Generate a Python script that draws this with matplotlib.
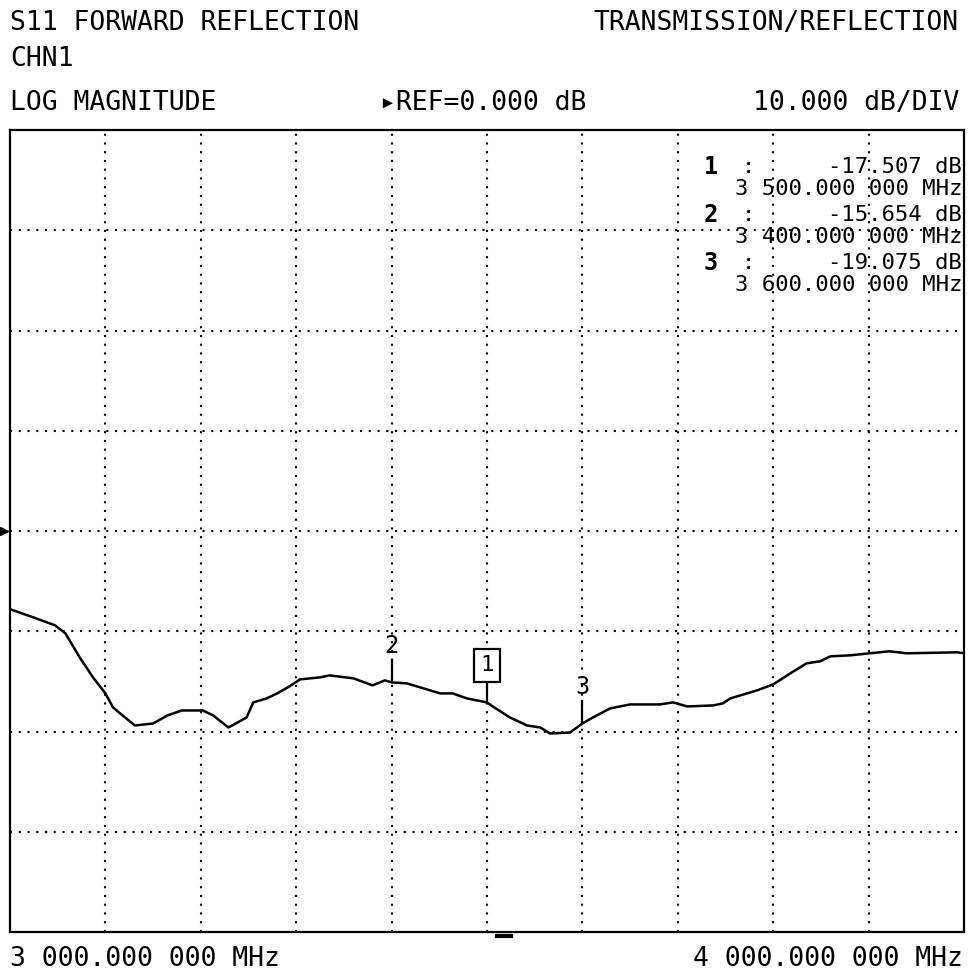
import matplotlib
matplotlib.use('Agg')
import matplotlib.pyplot as plt
import numpy as np

# S11 trace (MHz, dB)
freq_mhz = [3000, 3024, 3047, 3058, 3073, 3087, 3100, 3108, 3118, 3131,
            3150, 3165, 3180, 3202, 3213, 3229, 3248, 3255, 3269, 3280,
            3293, 3304, 3325, 3335, 3360, 3380, 3393, 3400, 3416, 3430,
            3451, 3464, 3479, 3500, 3506, 3524, 3542, 3556, 3566, 3587,
            3600, 3611, 3629, 3650, 3681, 3695, 3710, 3737, 3747, 3755,
            3783, 3800, 3818, 3835, 3849, 3860, 3881, 3901, 3922, 3940,
            3993, 4000]
s11_db = [-7.8, -8.6, -9.4, -10.2, -12.6, -14.6, -16.2, -17.6, -18.4, -19.4,
          -19.2, -18.4, -17.9, -17.9, -18.4, -19.6, -18.6, -17.1, -16.7, -16.2,
          -15.5, -14.8, -14.6, -14.4, -14.7, -15.4, -14.9, -15.1, -15.2, -15.6,
          -16.2, -16.2, -16.7, -17.1, -17.5, -18.6, -19.4, -19.6, -20.2, -20.1,
          -19.2, -18.6, -17.7, -17.3, -17.3, -17.1, -17.5, -17.4, -17.2, -16.7,
          -15.9, -15.3, -14.2, -13.2, -13.0, -12.5, -12.4, -12.2, -12.0, -12.2,
          -12.1, -12.2]

marker_ids = ['1', '2', '3']
marker_freq = [3500, 3400, 3600]
marker_db = [-17.507, -15.654, -19.075]
marker_freq_text = ['3 500.000 000 MHz', '3 400.000 000 MHz', '3 600.000 000 MHz']

ref_db = 0.0
scale_db = 10.0
start_label = '3 000.000 000 MHz'
stop_label = '4 000.000 000 MHz'

W, H = 968, 976
MONO = ['DejaVu Sans Mono', 'DejaVu Sans']


def px(x, y):
    return x / W, 1 - y / H


fig = plt.figure(figsize=(W / 100, H / 100), dpi=100)
ax = fig.add_axes([10 / W, (H - 932) / H, 954 / W, 802 / H])

ax.plot(freq_mhz, s11_db, color='black', lw=1.8, zorder=3)

ax.set_xlim(3000, 4000)
ax.set_ylim(ref_db - 4 * scale_db, ref_db + 4 * scale_db)
ax.set_xticks(np.arange(3100, 4000, 100))
ax.set_yticks(np.arange(-30, 40, 10))
ax.tick_params(length=0, labelbottom=False, labelleft=False)
ax.grid(True, color='black', linestyle=(0, (1, 3.2)), linewidth=1.5)
for s in ax.spines.values():
    s.set_linewidth(1.6)

# marker stems and labels on the trace
for mid, f in zip(marker_ids, marker_freq):
    y0 = np.interp(f, freq_mhz, s11_db)
    ax.plot([f, f], [y0, y0 + 2.2], color='black', lw=1.6, zorder=3)
    if mid == '1':
        ax.text(f, y0 + 3.7, mid, ha='center', va='center', fontsize=16,
                family=MONO, zorder=4,
                bbox=dict(boxstyle='square,pad=0.3', fc='white', ec='black', lw=1.6))
    else:
        ax.text(f, y0 + 3.6, mid, ha='center', va='center', fontsize=17,
                family=MONO, zorder=4)

# reference arrow and small dash under the frame
ax.plot([-0.006], [ref_db], marker='>', color='black', markersize=6,
        transform=ax.get_yaxis_transform(), clip_on=False)
ax.plot([3510, 3525], [-40.35, -40.35], color='black', lw=3, clip_on=False)

# header text
hdr = dict(fontsize=19, family=MONO, va='center')
fig.text(*px(10, 23), 'S11 FORWARD REFLECTION', ha='left', **hdr)
fig.text(*px(959, 23), 'TRANSMISSION/REFLECTION', ha='right', **hdr)
fig.text(*px(10, 59), 'CHN1', ha='left', **hdr)
fig.text(*px(10, 103), 'LOG MAGNITUDE', ha='left', **hdr)
fig.text(*px(380, 103), '\u25b8REF=%.3f dB' % ref_db, ha='left', **hdr)
fig.text(*px(959, 103), '%.3f dB/DIV' % scale_db, ha='right', **hdr)
fig.text(*px(10, 959), start_label, ha='left', **hdr)
fig.text(*px(963, 959), stop_label, ha='right', **hdr)

# marker readout
for i, (mid, v, ft) in enumerate(zip(marker_ids, marker_db, marker_freq_text)):
    y = 167 + 48 * i
    fig.text(*px(704, y), mid, ha='left', va='center', fontsize=17,
             family=MONO, fontweight='bold')
    fig.text(*px(748, y), ':', ha='center', va='center', fontsize=16, family=MONO)
    fig.text(*px(962, y), '%.3f dB' % v, ha='right', va='center', fontsize=16,
             family=MONO)
    fig.text(*px(962, y + 22), ft, ha='right', va='center', fontsize=16,
             family=MONO)

fig.savefig('out.png', dpi=100, facecolor='white')
